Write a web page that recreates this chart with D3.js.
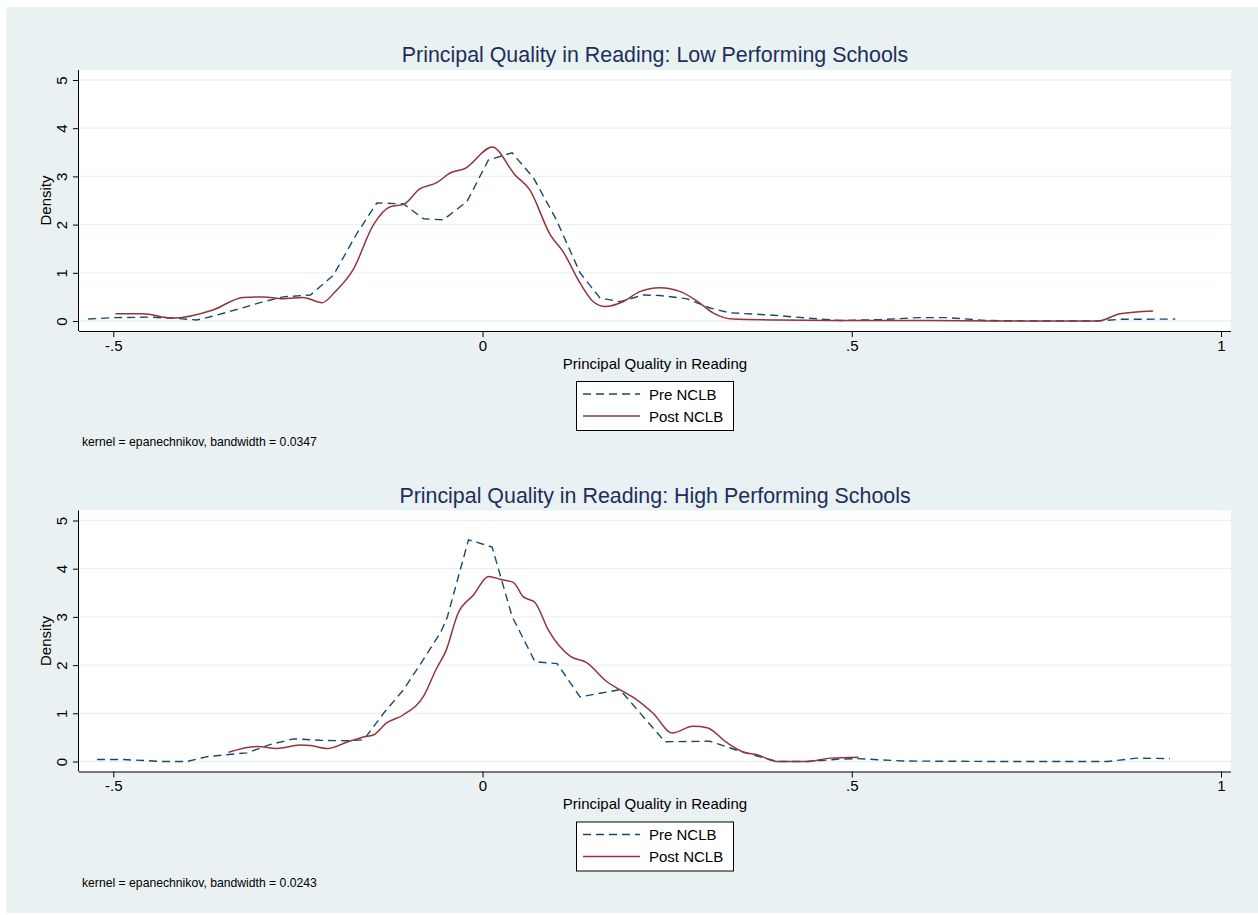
<!DOCTYPE html>
<html>
<head>
<meta charset="utf-8">
<script src="https://cdn.jsdelivr.net/npm/d3@7"></script>
<style>
  body { margin: 0; background: #fff; }
  text { font-family: "Liberation Sans", Arial, Helvetica, sans-serif; }
</style>
</head>
<body>
<svg id="svgfield" width="1258" height="915"></svg>
<script>
var svg = d3.select("#svgfield");

// low performing schools
var lowPreX = [-0.534, -0.5, -0.45, -0.41, -0.387, -0.365, -0.33, -0.297, -0.27, -0.233, -0.202, -0.17, -0.143, -0.107, -0.08, -0.053, -0.021, 0.008, 0.04, 0.069, 0.1, 0.132, 0.159, 0.186, 0.218, 0.24, 0.277, 0.308, 0.335, 0.394, 0.44, 0.484, 0.54, 0.59, 0.63, 0.683, 0.75, 0.832, 0.863, 0.938];
var lowPreY = [0.04, 0.07, 0.08, 0.05, 0.02, 0.1, 0.25, 0.40, 0.5, 0.54, 0.95, 1.82, 2.45, 2.43, 2.12, 2.1, 2.48, 3.34, 3.49, 2.97, 2.1, 1.0, 0.48, 0.40, 0.54, 0.53, 0.46, 0.27, 0.17, 0.12, 0.06, 0.01, 0.03, 0.07, 0.07, 0.01, 0.0, 0.0, 0.035, 0.04];
var lowPostX = [-0.497, -0.46, -0.42, -0.365, -0.324, -0.297, -0.27, -0.243, -0.217, -0.2, -0.175, -0.148, -0.125, -0.107, -0.085, -0.062, -0.044, -0.023, 0.013, 0.044, 0.064, 0.092, 0.109, 0.132, 0.15, 0.166, 0.19, 0.213, 0.24, 0.268, 0.29, 0.312, 0.339, 0.4, 0.5, 0.6, 0.7, 0.834, 0.863, 0.908];
var lowPostY = [0.15, 0.15, 0.06, 0.23, 0.49, 0.5, 0.46, 0.49, 0.38, 0.6, 1.07, 1.99, 2.37, 2.42, 2.74, 2.87, 3.07, 3.17, 3.61, 3.03, 2.72, 1.78, 1.44, 0.79, 0.4, 0.30, 0.40, 0.61, 0.69, 0.61, 0.42, 0.17, 0.04, 0.02, 0.01, 0.01, 0.0, 0.0, 0.15, 0.21];

// high performing schools
var highPreX = [-0.522, -0.486, -0.432, -0.4, -0.373, -0.319, -0.288, -0.256, -0.22, -0.184, -0.161, -0.134, -0.107, -0.085, -0.057, -0.048, -0.019, 0.013, 0.04, 0.071, 0.101, 0.132, 0.186, 0.247, 0.308, 0.349, 0.399, 0.44, 0.484, 0.507, 0.57, 0.7, 0.846, 0.886, 0.931];
var highPreY = [0.04, 0.04, 0.0, 0.0, 0.1, 0.18, 0.35, 0.47, 0.44, 0.43, 0.45, 1.0, 1.49, 2.0, 2.67, 2.98, 4.6, 4.45, 3.01, 2.07, 2.03, 1.34, 1.49, 0.41, 0.42, 0.21, 0.0, 0.0, 0.05, 0.06, 0.01, 0.0, 0.0, 0.07, 0.06];
var highPostX = [-0.344, -0.305, -0.278, -0.247, -0.233, -0.21, -0.184, -0.161, -0.148, -0.13, -0.107, -0.08, -0.062, -0.05, -0.033, -0.012, 0.008, 0.024, 0.042, 0.055, 0.071, 0.089, 0.119, 0.141, 0.168, 0.186, 0.209, 0.231, 0.257, 0.285, 0.304, 0.331, 0.353, 0.372, 0.399, 0.44, 0.471, 0.509];
var highPostY = [0.19, 0.31, 0.27, 0.34, 0.33, 0.27, 0.4, 0.51, 0.55, 0.8, 0.97, 1.35, 1.94, 2.28, 3.08, 3.46, 3.84, 3.78, 3.71, 3.42, 3.3, 2.73, 2.18, 2.05, 1.66, 1.49, 1.28, 1.0, 0.59, 0.73, 0.7, 0.39, 0.2, 0.14, 0.0, 0.0, 0.07, 0.09];

var xTicks = [-0.5, 0, 0.5, 1];
var xTickLabels = ["-.5", "0", ".5", "1"];
var yTicks = [0, 1, 2, 3, 4, 5];
var seriesNames = ["Pre NCLB", "Post NCLB"];

var bg = "#eaf1f3";
var navy = "#1c2f5c";
var preColor = "#1a476f";
var postColor = "#90353b";

svg.append("rect").attr("x", 6).attr("y", 7).attr("width", 1252).attr("height", 906).attr("fill", bg);

var zip = function(xs, ys) { return xs.map(function(d, i) { return [d, ys[i]]; }); };

var panels = [
  { top: 70, title: "Principal Quality in Reading: Low Performing Schools", pre: zip(lowPreX, lowPreY), post: zip(lowPostX, lowPostY), note: "kernel = epanechnikov, bandwidth = 0.0347" },
  { top: 510.5, title: "Principal Quality in Reading: High Performing Schools", pre: zip(highPreX, highPreY), post: zip(highPostX, highPostY), note: "kernel = epanechnikov, bandwidth = 0.0243" }
];

var left = 79, right = 1231;

var draw_panel = function(p) {
  var g = svg.append("g").attr("transform", "translate(0," + (p.top - 70) + ")");
  var x = d3.scaleLinear().domain([-0.5, 1]).range([113.3, 1221]);
  var y = d3.scaleLinear().domain([0, 5]).range([321, 80]);

  g.append("rect").attr("x", left).attr("y", 70).attr("width", right - left).attr("height", 261).attr("fill", "#fff");

  // grid
  g.selectAll(".grid").data(yTicks).enter().append("line")
    .attr("x1", left + 1).attr("x2", right).attr("y1", function(d) { return y(d); }).attr("y2", function(d) { return y(d); })
    .attr("stroke", bg).attr("stroke-width", 1.3);

  var line = d3.line().x(function(d) { return x(d[0]); }).y(function(d) { return y(d[1]); });
  var smooth = d3.line().x(function(d) { return x(d[0]); }).y(function(d) { return y(d[1]); }).curve(d3.curveMonotoneX);

  g.append("path").attr("d", line(p.pre)).attr("fill", "none").attr("stroke", preColor)
    .attr("stroke-width", 1.4).attr("stroke-dasharray", "8,5");
  g.append("path").attr("d", smooth(p.post)).attr("fill", "none").attr("stroke", postColor).attr("stroke-width", 1.5);

  // axes
  var xaxis = d3.axisBottom(x).tickValues(xTicks).tickSize(6).tickPadding(3)
    .tickFormat(function(d, i) { return xTickLabels[i]; });
  var xg = g.append("g").attr("transform", "translate(0,331)").call(xaxis);
  xg.select(".domain").attr("d", "M" + left + ",0.5H" + right).attr("stroke", "#000");
  xg.selectAll("text").style("font-size", "15px").attr("fill", "#000").style("font-family", "Liberation Sans, Arial, sans-serif");

  var yaxis = d3.axisLeft(y).tickValues(yTicks).tickSize(6).tickFormat(d3.format("d"));
  var yg = g.append("g").attr("transform", "translate(" + left + ",0)").call(yaxis);
  yg.select(".domain").attr("d", "M-0.5,70V331").attr("stroke", "#000");
  yg.selectAll(".tick text").style("font-size", "15px").attr("fill", "#000").style("font-family", "Liberation Sans, Arial, sans-serif")
    .attr("transform", "rotate(-90)").attr("x", 0).attr("y", -12).attr("dy", 0).style("text-anchor", "middle");

  g.append("text").attr("x", (left + right) / 2).attr("y", 62).style("text-anchor", "middle")
    .style("font-size", "21.4px").attr("fill", navy).text(p.title);
  g.append("text").attr("x", (left + right) / 2).attr("y", 368.5).style("text-anchor", "middle")
    .style("font-size", "15px").attr("fill", "#000").text("Principal Quality in Reading");
  g.append("text").attr("transform", "translate(50.5,200.5) rotate(-90)").style("text-anchor", "middle")
    .style("font-size", "15px").attr("fill", "#000").text("Density");

  // legend
  var lg = g.append("g");
  lg.append("rect").attr("x", 576.5).attr("y", 381.5).attr("width", 157).attr("height", 49)
    .attr("fill", "#fff").attr("stroke", "#000").attr("stroke-width", 1);
  var rows = lg.selectAll(".row").data(seriesNames).enter().append("g")
    .attr("transform", function(d, i) { return "translate(0," + (394 + i * 22) + ")"; });
  rows.append("line").attr("x1", 583).attr("x2", 640).attr("y1", 0).attr("y2", 0)
    .attr("stroke", function(d, i) { return i === 0 ? preColor : postColor; })
    .attr("stroke-width", 1.4)
    .attr("stroke-dasharray", function(d, i) { return i === 0 ? "8,5" : null; });
  rows.append("text").attr("x", 649).attr("y", 5.5).style("font-size", "15px").attr("fill", "#000").text(function(d) { return d; });

  g.append("text").attr("x", 82).attr("y", 446).style("font-size", "12.2px").attr("fill", "#000").text(p.note);
};

panels.forEach(draw_panel);
</script>
</body>
</html>
